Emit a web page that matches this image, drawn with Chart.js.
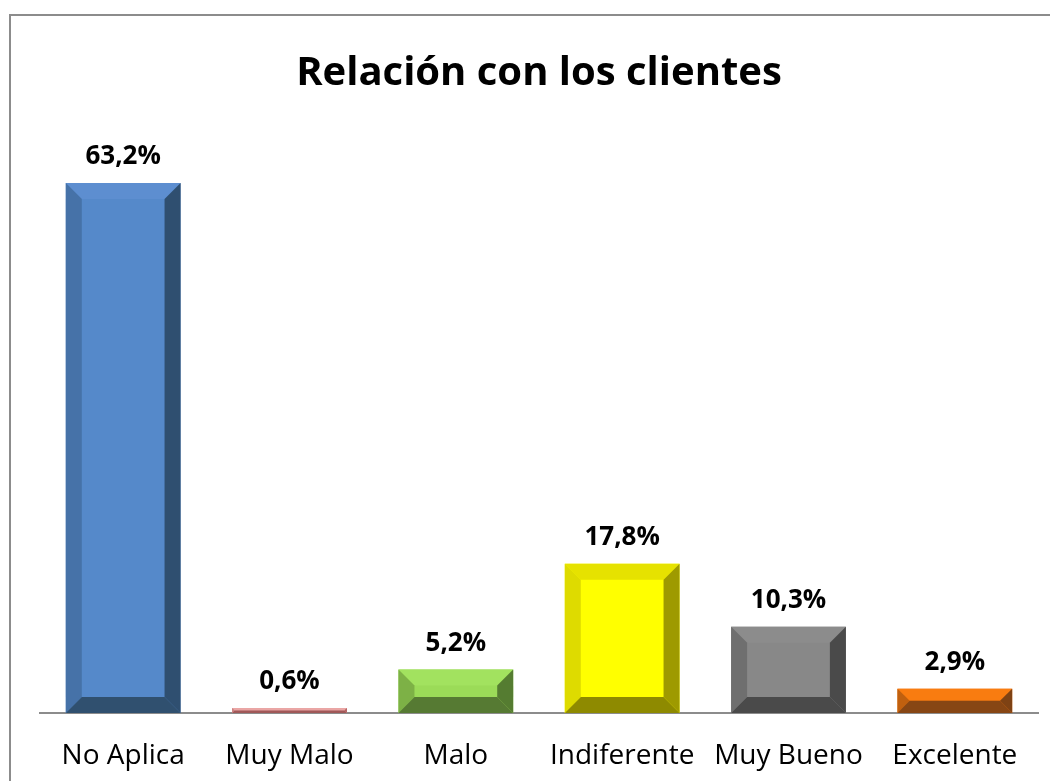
<!DOCTYPE html>
<html>
<head>
<meta charset="utf-8">
<script src="https://cdn.jsdelivr.net/npm/chart.js@4.4.0/dist/chart.umd.min.js"></script>
<style>
  html, body { margin: 0; padding: 0; background: #ffffff; }
  #wrap { width: 1050px; height: 781px; position: relative; }
</style>
</head>
<body>
<div id="wrap"><canvas id="c" width="1050" height="781"></canvas></div>
<script>
// Categories and their shares (%)
const categories = ['No Aplica', 'Muy Malo', 'Malo', 'Indiferente', 'Muy Bueno', 'Excelente'];
const shares = [63.2, 0.6, 5.2, 17.8, 10.3, 2.9];

// Bevel palette per bar: face, top, left, right, bottom
const faceColors   = ['#5589ca', '#e8a1a0', '#9bdb58', '#ffff00', '#888888', '#ec7410'];
const topColors    = ['#5d8ed0', '#eaa6a5', '#a2e25f', '#e6e200', '#8c8c8c', '#f97c10'];
const leftColors   = ['#4672a8', '#c98080', '#7db146', '#dedb00', '#6f6f6f', '#c0600f'];
const rightColors  = ['#2f4f70', '#b06060', '#557c31', '#9e9a00', '#4a4a4a', '#7e4214'];
const bottomColors = ['#30506f', '#a05858', '#567a33', '#8e8a00', '#4a4a4a', '#874614'];

const FONT = '"Open Sans", "Noto Sans", sans-serif';
const fmt = v => v.toFixed(1).replace('.', ',') + '%';

// Outer frame of the chart object
const framePlugin = {
  id: 'frame',
  beforeDraw(chart) {
    const ctx = chart.ctx;
    ctx.save();
    ctx.strokeStyle = '#8c8c8c';
    ctx.lineWidth = 2;
    ctx.beginPath();
    ctx.moveTo(10, chart.height);
    ctx.lineTo(10, 15);
    ctx.lineTo(chart.width, 15);
    ctx.stroke();
    ctx.restore();
  }
};

// Bevelled edges and value labels, drawn from each bar element
const bevelPlugin = {
  id: 'bevel',
  afterDatasetsDraw(chart) {
    const ctx = chart.ctx;
    const meta = chart.getDatasetMeta(0);
    meta.data.forEach((bar, i) => {
      const p = bar.getProps(['x', 'y', 'base', 'width'], true);
      const L = p.x - p.width / 2, R = p.x + p.width / 2;
      const T = Math.min(p.y, p.base), B = Math.max(p.y, p.base);
      const b = Math.min(16, (B - T) / 2, p.width / 2);
      const poly = (pts, col) => {
        ctx.fillStyle = col;
        ctx.beginPath();
        ctx.moveTo(pts[0][0], pts[0][1]);
        for (let k = 1; k < pts.length; k++) ctx.lineTo(pts[k][0], pts[k][1]);
        ctx.closePath();
        ctx.fill();
      };
      ctx.save();
      poly([[L, T], [R, T], [R - b, T + b], [L + b, T + b]], topColors[i]);
      poly([[L, T], [L + b, T + b], [L + b, B - b], [L, B]], leftColors[i]);
      poly([[R, T], [R, B], [R - b, B - b], [R - b, T + b]], rightColors[i]);
      poly([[L, B], [R, B], [R - b, B - b], [L + b, B - b]], bottomColors[i]);
      ctx.restore();

      ctx.save();
      ctx.fillStyle = '#000000';
      ctx.font = 'bold 26px ' + FONT;
      ctx.textAlign = 'center';
      ctx.textBaseline = 'middle';
      ctx.fillText(fmt(shares[i]), p.x, T - 26);
      ctx.restore();
    });
  }
};

new Chart(document.getElementById('c'), {
  type: 'bar',
  data: {
    labels: categories,
    datasets: [{
      data: shares,
      backgroundColor: faceColors,
      borderWidth: 0,
      categoryPercentage: 1.0,
      barPercentage: 0.69
    }]
  },
  options: {
    responsive: false,
    animation: false,
    layout: { padding: { left: 40, right: 12, top: 26, bottom: 0 } },
    plugins: {
      legend: { display: false },
      tooltip: { enabled: false },
      title: {
        display: true,
        text: 'Relación con los clientes',
        color: '#000000',
        font: { family: FONT, size: 40, weight: 'bold', lineHeight: 1.2 },
        padding: { top: 24, bottom: 28 }
      }
    },
    scales: {
      x: {
        grid: { display: false, drawTicks: false },
        border: { display: true, color: '#8c8c8c', width: 2 },
        ticks: {
          color: '#000000',
          padding: 26,
          font: { family: FONT, size: 28 }
        },
        afterFit(scale) { scale.height = 68; }
      },
      y: {
        display: false,
        min: 0,
        max: 70
      }
    }
  },
  plugins: [framePlugin, bevelPlugin]
});
</script>
</body>
</html>
